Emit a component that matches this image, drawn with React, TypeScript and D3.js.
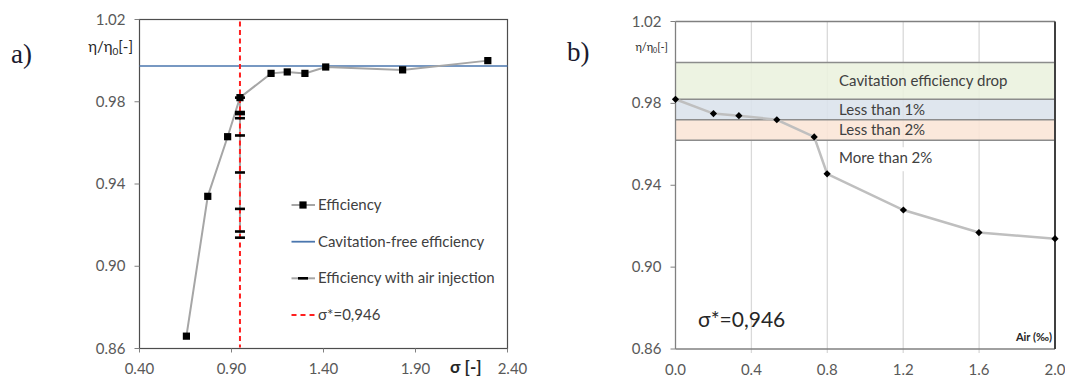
import React from 'react';
import * as d3 from 'd3';

// chart a) efficiency vs cavitation number
const SIGMA = [0.655, 0.771, 0.879, 0.946, 1.115, 1.203, 1.299, 1.412, 1.83, 2.293];
const EFFICIENCY = [0.866, 0.934, 0.963, 0.982, 0.9938, 0.9945, 0.9938, 0.9969, 0.9955, 1.0];
const ETA_FREE = 0.9974;
const SIGMA_STAR = 0.946;

// chart b) efficiency vs air content (same points as the air-injection series in a)
const AIR = [0, 0.2, 0.334, 0.534, 0.731, 0.799, 1.201, 1.599, 2.0];
const AIR_EFF = [0.982, 0.975, 0.974, 0.972, 0.9636, 0.9456, 0.9279, 0.9169, 0.9139];
const BAND_EDGES = [1.0, 0.982, 0.972, 0.962];
const BAND_LABELS = ['Cavitation efficiency drop', 'Less than 1%', 'Less than 2%'];
const BAND_COLORS = ['#ebf1de', '#dbe2ec', '#fbe5d6'];

const Y_TICKS = [0.86, 0.9, 0.94, 0.98, 1.02];
const X_TICKS_A = [0.4, 0.9, 1.4, 1.9, 2.4];
const X_TICKS_B = [0, 0.4, 0.8, 1.2, 1.6, 2.0];

const FONT = 'Lato, "Open Sans", sans-serif';
const TICK_COLOR = '#595959';

const xA = d3.scaleLinear().domain([0.4, 2.4]).range([139.5, 507.5]);
const yA = d3.scaleLinear().domain([0.86, 1.02]).range([348.5, 19.5]);
const xB = d3.scaleLinear().domain([0, 2]).range([675.5, 1055]);
const yB = d3.scaleLinear().domain([0.86, 1.02]).range([349, 21.5]);

const square = d3.symbol(d3.symbolSquare, 52)()!;
const diamond = d3.symbol(d3.symbolSquare, 26)()!;

const ChartA = () => {
  const effLine = d3.line<number>().x((_, i) => xA(SIGMA[i])).y(d => yA(d))(EFFICIENCY)!;
  const [x0, x1] = xA.range();
  const [yBot, yTop] = yA.range();
  const airTop = d3.max(AIR_EFF)!;
  const airBot = d3.min(AIR_EFF)!;
  const legendY = [205, 241.7, 278.3, 315];
  return (
    <g>
      <text x={11} y={63} style={{ fontFamily: '"Liberation Serif", serif', fontSize: 27 }} fill="#1a1a2e">a)</text>
      <rect x={x0} y={yTop} width={x1 - x0} height={yBot - yTop} fill="#fff" stroke="#4d4d4d" strokeWidth={1.2} />
      {Y_TICKS.map(t => (
        <g key={t}>
          <line x1={x0 - 5} x2={x0} y1={yA(t)} y2={yA(t)} stroke="#808080" />
          <text x={x0 - 14} y={yA(t) + 5} textAnchor="end" fill={TICK_COLOR} style={{ fontSize: 15 }}>{t.toFixed(2)}</text>
        </g>
      ))}
      {X_TICKS_A.map(t => (
        <g key={t}>
          <line x1={xA(t)} x2={xA(t)} y1={yBot} y2={yBot + 4} stroke="#808080" />
          {t !== 2.4 && (
            <text x={xA(t)} y={373.5} textAnchor="middle" fill={TICK_COLOR} style={{ fontSize: 15 }}>{t.toFixed(2)}</text>
          )}
        </g>
      ))}
      <text x={xA(2.4) + 5} y={373.5} textAnchor="middle" fill={TICK_COLOR} style={{ fontSize: 15 }}>2.40</text>
      <text x={450} y={373} fill="#262626" style={{ fontSize: 17, fontWeight: 'bold' }}>σ [-]</text>
      <text x={133} y={52} textAnchor="end" fill="#262626" style={{ fontSize: 15 }}>
        η/η<tspan dy={3} style={{ fontSize: 10 }}>0</tspan><tspan dy={-3}>[-]</tspan>
      </text>

      <line x1={x0} x2={x1} y1={yA(ETA_FREE)} y2={yA(ETA_FREE)} stroke="#4a76ae" strokeWidth={1.6} />
      <path d={effLine} fill="none" stroke="#a6a6a6" strokeWidth={2} />
      <line x1={xA(SIGMA_STAR)} x2={xA(SIGMA_STAR)} y1={yA(airTop)} y2={yA(airBot)} stroke="#a6a6a6" strokeWidth={2} />
      <line x1={xA(SIGMA_STAR)} x2={xA(SIGMA_STAR)} y1={yTop + 2} y2={yBot - 1} stroke="#ff1f1f" strokeWidth={2} strokeDasharray="5,3.5" />
      {EFFICIENCY.map((d, i) => (
        <path key={i} d={square} transform={`translate(${xA(SIGMA[i])},${yA(d)})`} fill="#000" />
      ))}
      {AIR_EFF.map((d, i) => (
        <rect key={i} x={xA(SIGMA_STAR) - 5} y={yA(d) - 1.3} width={10} height={2.6} fill="#000" />
      ))}

      {/* legend */}
      <g style={{ fontSize: 15 }} fill="#404040">
        <line x1={291.5} x2={315} y1={legendY[0]} y2={legendY[0]} stroke="#a6a6a6" strokeWidth={2} />
        <path d={square} transform={`translate(303,${legendY[0]})`} fill="#000" />
        <text x={318} y={legendY[0] + 5}>Efficiency</text>
        <line x1={291.5} x2={315} y1={legendY[1]} y2={legendY[1]} stroke="#4a76ae" strokeWidth={1.8} />
        <text x={318} y={legendY[1] + 5}>Cavitation-free efficiency</text>
        <line x1={291.5} x2={315} y1={legendY[2]} y2={legendY[2]} stroke="#a6a6a6" strokeWidth={2} />
        <rect x={298} y={legendY[2] - 1.3} width={10} height={2.6} fill="#000" />
        <text x={318} y={legendY[2] + 5}>Efficiency with air injection</text>
        <line x1={291.5} x2={315} y1={legendY[3]} y2={legendY[3]} stroke="#ff1f1f" strokeWidth={2} strokeDasharray="5,4" />
        <text x={318} y={legendY[3] + 5}>σ*=0,946</text>
      </g>
    </g>
  );
};

const ChartB = () => {
  const line = d3.line<number>().x((_, i) => xB(AIR[i])).y(d => yB(d))(AIR_EFF)!;
  const [x0, x1] = xB.range();
  const [yBot, yTop] = yB.range();
  const labelX = xB(0.862);
  return (
    <g>
      <text x={567} y={61} style={{ fontFamily: '"Liberation Serif", serif', fontSize: 27 }} fill="#1a1a2e">b)</text>
      <rect x={x0} y={yTop} width={x1 - x0} height={yBot - yTop} fill="#fff" />
      {X_TICKS_B.slice(1, -1).map(t => (
        <line key={t} x1={xB(t)} x2={xB(t)} y1={yTop} y2={yBot + 4} stroke="#d9d9d9" strokeWidth={1.3} />
      ))}
      {BAND_LABELS.map((_, i) => (
        <rect key={i} x={x0} width={x1 - x0} y={yB(BAND_EDGES[i])} height={yB(BAND_EDGES[i + 1]) - yB(BAND_EDGES[i])}
          fill={BAND_COLORS[i]} fillOpacity={0.88} />
      ))}
      {BAND_EDGES.map(e => (
        <line key={e} x1={x0} x2={x1} y1={yB(e)} y2={yB(e)} stroke="#8c8c8c" strokeWidth={1.5} />
      ))}
      <rect x={labelX - 2} y={yB(BAND_EDGES[3]) + 7} width={96} height={24} fill="#fff" />
      <g style={{ fontSize: 15 }} fill="#404040">
        {BAND_LABELS.map((l, i) => (
          <text key={l} x={labelX} y={(yB(BAND_EDGES[i]) + yB(BAND_EDGES[i + 1])) / 2 + 5}>{l}</text>
        ))}
        <text x={labelX} y={yB(BAND_EDGES[3]) + 23}>More than 2%</text>
      </g>

      <line x1={x0} x2={x0} y1={yTop} y2={yBot} stroke="#808080" strokeWidth={1.3} />
      <line x1={x0} x2={x1} y1={yBot} y2={yBot} stroke="#808080" strokeWidth={1.3} />
      <line x1={x0} x2={x1} y1={yTop} y2={yTop} stroke="#808080" strokeWidth={1.3} />
      <line x1={x1} x2={x1} y1={yTop} y2={yBot} stroke="#404040" strokeWidth={2} />

      {Y_TICKS.map(t => (
        <g key={t}>
          <line x1={x0 - 5} x2={x0} y1={yB(t)} y2={yB(t)} stroke="#808080" />
          <text x={x0 - 14} y={yB(t) + 5} textAnchor="end" fill={TICK_COLOR} style={{ fontSize: 15 }}>{t.toFixed(2)}</text>
        </g>
      ))}
      {X_TICKS_B.map(t => (
        <text key={t} x={xB(t)} y={374.5} textAnchor="middle" fill={TICK_COLOR} style={{ fontSize: 15 }}>{t.toFixed(1)}</text>
      ))}
      <text x={668} y={51} textAnchor="end" fill="#262626" style={{ fontSize: 11 }}>
        η/η<tspan dy={2} style={{ fontSize: 7 }}>0</tspan><tspan dy={-2}>[-]</tspan>
      </text>
      <text x={1052} y={341} textAnchor="end" fill="#262626" style={{ fontSize: 11, fontWeight: 'bold' }}>Air (‰)</text>
      <text x={698} y={327} fill="#262626" style={{ fontSize: 21 }}>σ*=0,946</text>

      <path d={line} fill="none" stroke="#bfbfbf" strokeWidth={2.5} />
      {AIR_EFF.map((d, i) => (
        <path key={i} d={diamond} transform={`translate(${xB(AIR[i])},${yB(d)}) rotate(45)`} fill="#000" />
      ))}
    </g>
  );
};

export default function App() {
  return (
    <div style={{ position: 'absolute', left: 0, top: 0, background: '#fff' }}>
      <svg width={1065} height={376} style={{ display: 'block', fontFamily: FONT }}>
        <rect width={1065} height={376} fill="#fff" />
        <ChartA />
        <ChartB />
      </svg>
    </div>
  );
}
